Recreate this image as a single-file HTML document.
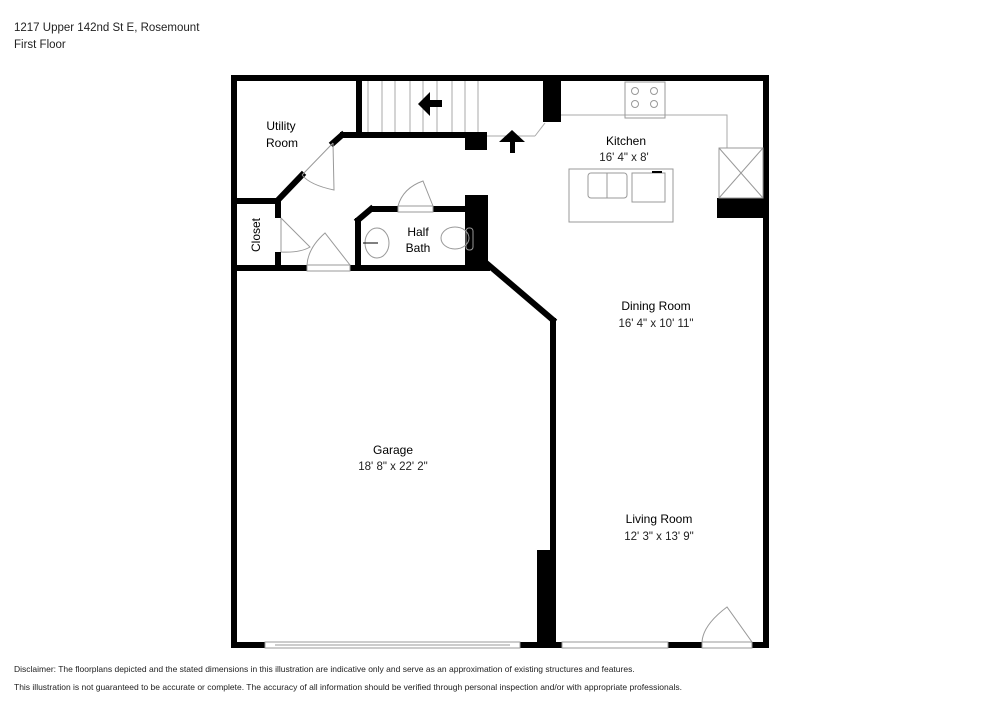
<!DOCTYPE html>
<html><head><meta charset="utf-8"><style>
body{margin:0;background:#fff;width:1000px;height:707px;overflow:hidden;font-family:"Liberation Sans",sans-serif}
svg{position:absolute;left:0;top:0}
</style></head><body>
<svg width="1000" height="707" viewBox="0 0 1000 707" font-family="Liberation Sans, sans-serif">
<g font-size="11.5" fill="#222">
<text x="14" y="31">1217 Upper 142nd St E, Rosemount</text>
<text x="14" y="48">First Floor</text>
</g>
<g font-size="8.5" fill="#222">
<text x="14" y="672">Disclaimer: The floorplans depicted and the stated dimensions in this illustration are indicative only and serve as an approximation of existing structures and features.</text>
<text x="14" y="690">This illustration is not guaranteed to be accurate or complete. The accuracy of all information should be verified through personal inspection and/or with appropriate professionals.</text>
</g>
<!-- stairs -->
<g stroke="#aaa" stroke-width="1">
<line x1="368" y1="81" x2="368" y2="132"/><line x1="382" y1="81" x2="382" y2="132"/><line x1="395" y1="81" x2="395" y2="132"/><line x1="410" y1="81" x2="410" y2="132"/><line x1="423" y1="81" x2="423" y2="132"/><line x1="437" y1="81" x2="437" y2="132"/><line x1="452" y1="81" x2="452" y2="132"/><line x1="465" y1="81" x2="465" y2="132"/><line x1="478" y1="81" x2="478" y2="132"/>
<line x1="487" y1="136" x2="535" y2="136"/><line x1="535" y1="136" x2="545" y2="123"/>
<polyline points="561,115 727,115 727,148" fill="none"/>
</g>
<polygon points="418,104 430,92 430,100 442,100 442,107 430,107 430,116" fill="#000"/>
<polygon points="512,130 525,142 515,142 515,153 510,153 510,142 499,142" fill="#000"/>
<!-- walls -->
<g fill="#000">
<rect x="231" y="75" width="538" height="6"/>
<rect x="231" y="75" width="6" height="573"/>
<rect x="763" y="75" width="6" height="573"/>
<rect x="356" y="75" width="6" height="60"/>
<rect x="340" y="132" width="147" height="6"/>
<rect x="465" y="132" width="22" height="18"/>
<rect x="237" y="198" width="43" height="6"/>
<rect x="275" y="198" width="6" height="20"/>
<rect x="275" y="252" width="6" height="19"/>
<rect x="237" y="265" width="70" height="6"/>
<rect x="350" y="265" width="140" height="6"/>
<rect x="355" y="218" width="6" height="50"/>
<rect x="370" y="206" width="28" height="6"/>
<rect x="433" y="206" width="40" height="6"/>
<rect x="465" y="195" width="23" height="75"/>
<rect x="550" y="318" width="6" height="330"/>
<rect x="537" y="550" width="19" height="98"/>
<rect x="543" y="81" width="18" height="41"/>
<rect x="717" y="198" width="46" height="20"/>
<rect x="231" y="642" width="34" height="6"/>
<rect x="520" y="642" width="42" height="6"/>
<rect x="668" y="642" width="34" height="6"/>
<rect x="752" y="642" width="17" height="6"/>
</g>
<g stroke="#000" stroke-width="6" fill="none" stroke-linecap="square">
<line x1="342" y1="135" x2="333" y2="143"/>
<line x1="302" y1="175" x2="279" y2="199"/>
<line x1="358" y1="220" x2="371" y2="209"/>
<line x1="485" y1="262" x2="553" y2="320"/>
</g>
<!-- windows / doors -->
<g stroke="#999" stroke-width="1" fill="none">
<rect x="265" y="642" width="255" height="6"/><line x1="275" y1="645" x2="510" y2="645"/>
<rect x="562" y="642" width="106" height="6"/>
<rect x="702" y="642" width="50" height="6"/>
<path d="M752,642 L727,607 Q703,625 702,642"/>
<path d="M333,143 L302,175 M333,143 L334,190 Q310,185 302,175"/>
<path d="M281,218 L281,252 M281,218 L310,247 Q300,253 281,252"/>
<rect x="307" y="265" width="43" height="6"/><path d="M350,265 L325,233 Q308,248 307,265"/>
<rect x="398" y="206" width="35" height="6"/><path d="M398,206 Q403,188 423,181 L433,206"/>
<rect x="625" y="82" width="40" height="36"/>
<circle cx="635" cy="91" r="3.5"/><circle cx="654" cy="91" r="3.5"/><circle cx="635" cy="104" r="3.5"/><circle cx="654" cy="104" r="3.5"/>
<rect x="569" y="169" width="104" height="53"/>
<rect x="588" y="173" width="39" height="25" rx="3"/><line x1="607" y1="173" x2="607" y2="198"/>
<rect x="632" y="173" width="33" height="29"/>
<rect x="719" y="148" width="44" height="50"/><line x1="719" y1="148" x2="763" y2="198"/><line x1="763" y1="148" x2="719" y2="198"/>
<ellipse cx="377" cy="243" rx="12" ry="15"/>
<ellipse cx="455" cy="238" rx="14" ry="11"/><rect x="466" y="228" width="7" height="22" rx="3"/>
</g>
<line x1="363" y1="243" x2="378" y2="243" stroke="#000" stroke-width="1"/>
<rect x="652" y="171" width="10" height="2" fill="#000"/>
<g fill="#000" text-anchor="middle" font-size="12">
<text x="281" y="130">Utility</text><text x="282" y="147">Room</text>
<text x="418" y="236">Half</text><text x="418" y="252">Bath</text>
<text x="626" y="145">Kitchen</text>
<text x="656" y="310">Dining Room</text>
<text x="393" y="454">Garage</text>
<text x="659" y="523">Living Room</text>
<text transform="translate(260,235) rotate(-90)">Closet</text>
</g>
<g fill="#222" text-anchor="middle" font-size="11.5">
<text x="624" y="161">16' 4" x 8'</text>
<text x="656" y="327">16' 4" x 10' 11"</text>
<text x="393" y="470">18' 8" x 22' 2"</text>
<text x="659" y="540">12' 3" x 13' 9"</text>
</g>
</svg>
</body></html>
